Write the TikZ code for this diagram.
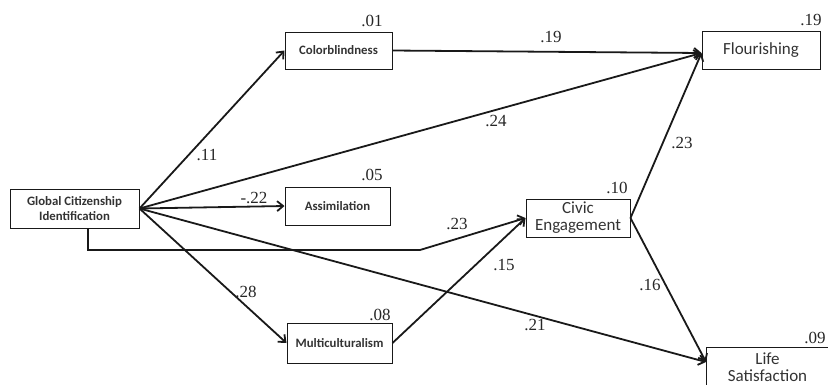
\documentclass[tikz,border=0pt]{standalone}
\usepackage{fontspec}
\setmainfont{Liberation Serif}
\newfontfamily\boxfont{Carlito}
\usetikzlibrary{arrows.meta}

\begin{document}
\begin{tikzpicture}[x=1pt, y=-1pt, -{Straight Barb[length=6pt,width=10pt]}, line width=1.8pt, draw=black!90,
    var/.style = {draw, rectangle, line width=1pt, align=center, inner sep=0.5pt, font=\boxfont\fontsize{17}{17}\selectfont, text=black!80, -},
    small/.style = {var, font=\boxfont\bfseries\fontsize{12.8}{15}\selectfont},
    num/.style = {font=\fontsize{17}{17}\selectfont, text=black!85}]
    \clip (0,0) rectangle (828,384);
    % Nodes

    \node[small, minimum width=129pt, minimum height=39pt] (gci) at (74.5,208.5) {Global Citizenship\\Identification};
    \node[small, minimum width=107pt, minimum height=37pt] (col) at (338.5,50.5) {Colorblindness};
    \node[small, minimum width=105pt, minimum height=38pt] (asm) at (337.5,206) {Assimilation};
    \node[small, minimum width=105pt, minimum height=40pt] (mul) at (339.5,343) {Multiculturalism};
    \node[var, minimum width=104pt, minimum height=38pt] (civ) at (578,218) {Civic\\Engagement};
    \node[var, minimum width=118pt, minimum height=38pt] (flo) at (761,50) {Flourishing};
    \node[var, minimum width=122pt, minimum height=39pt, anchor=north west] (lif) at (706,347) {Life\\Satisfaction};

    \node[num] (r1) at (372,21) {.01};
    \node[num] (r2) at (372,175) {.05};
    \node[num] (r3) at (380,315) {.08};
    \node[num] (r4) at (617,188) {.10};
    \node[num] (r5) at (811,20) {.19};
    \node[num] (r6) at (815,338) {.09};

    \coordinate (turn) at (420,250);
    % Edges
    \draw (gci.east) to (col.west);
    \draw (gci.east) to ([yshift=-3pt]flo.west);
    \draw (gci.east) to (asm.west);
    \draw (gci.east) to (mul.west);
    \draw (gci.east) to ([yshift=-15pt]lif.north west);
    \draw ([xshift=13.5pt]gci.south) |- (turn) -- (civ.west);
    \draw (mul.east) to (civ.west);
    \draw (col.east) to ([yshift=-3pt]flo.west);
    \draw (civ.east) to ([yshift=-3pt]flo.west);
    \draw (civ.east) to ([yshift=-15pt]lif.north west);

    \node[num] (e1) at (207,155) {.11};
    \node[num] (e2) at (496,121) {.24};
    \node[num] (e3) at (254,198) {-.22};
    \node[num] (e4) at (246,292) {.28};
    \node[num] (e5) at (535,325) {.21};
    \node[num] (e6) at (457,224) {.23};
    \node[num] (e7) at (504,265) {.15};
    \node[num] (e8) at (551,37) {.19};
    \node[num] (e9) at (682,143) {.23};
    \node[num] (e10) at (650,285) {.16};

\end{tikzpicture}
\end{document}
